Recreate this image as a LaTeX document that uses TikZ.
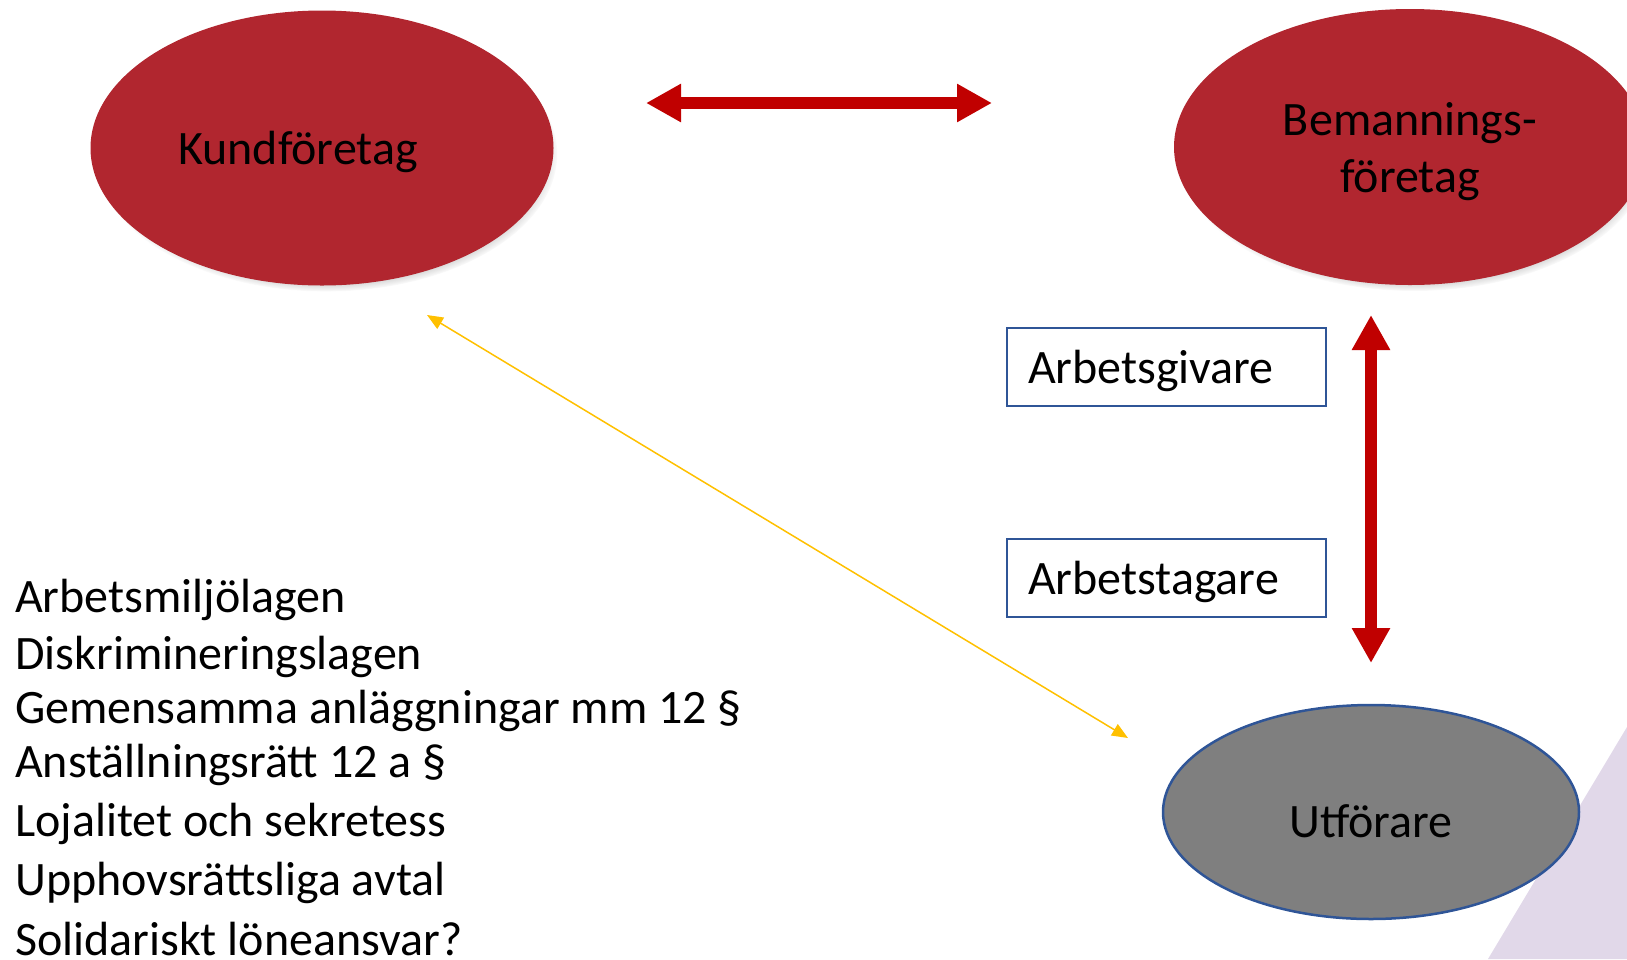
\documentclass[tikz,border=0pt]{standalone}
\usepackage{fontspec}
\setmainfont{Carlito}
\usetikzlibrary{shapes.geometric,arrows.meta,shadows}

\definecolor{blodrod}{HTML}{B1262F}
\definecolor{pilrod}{HTML}{C00000}
\definecolor{gra}{HTML}{7F7F7F}
\definecolor{kantbla}{HTML}{2F5597}
\definecolor{guld}{HTML}{FFC000}
\definecolor{lila}{HTML}{E1D8E9}

\begin{document}
\begin{tikzpicture}[x=1pt,y=-1pt,
    font=\fontsize{48}{57}\selectfont,
    foretag/.style={ellipse, fill=blodrod, inner sep=0pt,
      circular drop shadow={shadow xshift=4pt, shadow yshift=-6pt, shadow scale=1.0, opacity=0.8}},
    rutan/.style={draw=kantbla, line width=2pt, minimum height=78pt, text depth=0pt,
      text width=277pt, inner xsep=21pt, inner ysep=0pt, align=left},
    tjockpil/.style={{Triangle[length=35pt,width=36pt]}-{Triangle[length=35pt,width=36pt]},
      draw=pilrod, line width=12pt},
    tunnpil/.style={{Triangle[length=16pt,width=13pt]}-{Triangle[length=16pt,width=13pt]},
      draw=guld, fill=guld, line width=1.5pt}]
  \useasboundingbox (0,0) rectangle (1627,959);
  \clip (0,0) rectangle (1627,959);

  % bakgrund
  \fill[lila] (1488,959) -- (1627,727) -- (1627,959) -- cycle;

  % foretagen
  \node[foretag, minimum width=463pt, minimum height=275pt,
    label={[xshift=-24pt, yshift=-4pt]center:Kundföretag}] (kund) at (322,148) {};
  \node[foretag, minimum width=472pt, minimum height=276pt,
    label={[yshift=-5pt, align=center]center:Bemannings-\\företag}] (bem) at (1410,147) {};
  \node[ellipse, fill=gra, draw=kantbla, line width=2.5pt, inner sep=0pt,
    minimum width=416pt, minimum height=214pt,
    label={[yshift=-9pt]center:Utförare}] (utf) at (1371,812) {};

  % roller
  \node[rutan] (givare) at (1166.5,367) {Arbetsgivare};
  \node[rutan] (tagare) at (1166.5,578) {Arbetstagare};

  % pilar
  \coordinate (pilV) at (646,103);
  \coordinate (pilH) at (992,103);
  \draw[tjockpil] (pilV) -- (pilH);
  \coordinate (pilUpp) at (1371,315);
  \coordinate (pilNed) at (1371,663);
  \draw[tjockpil] (pilUpp) -- (pilNed);
  \coordinate (gulA) at (427,315);
  \coordinate (gulB) at (1128,738);
  \draw[tunnpil] (gulA) -- (gulB);

  % lagar
  \foreach \rad/\y [count=\i] in {Arbetsmiljölagen/612, Diskrimineringslagen/669,
      Gemensamma anläggningar mm 12 §/723, Anställningsrätt 12 a §/777,
      Lojalitet och sekretess/836, Upphovsrättsliga avtal/895, Solidariskt löneansvar?/955}
    \node[anchor=base west, inner sep=0pt] (lag\i) at (15,\y) {\rad};
\end{tikzpicture}
\end{document}
